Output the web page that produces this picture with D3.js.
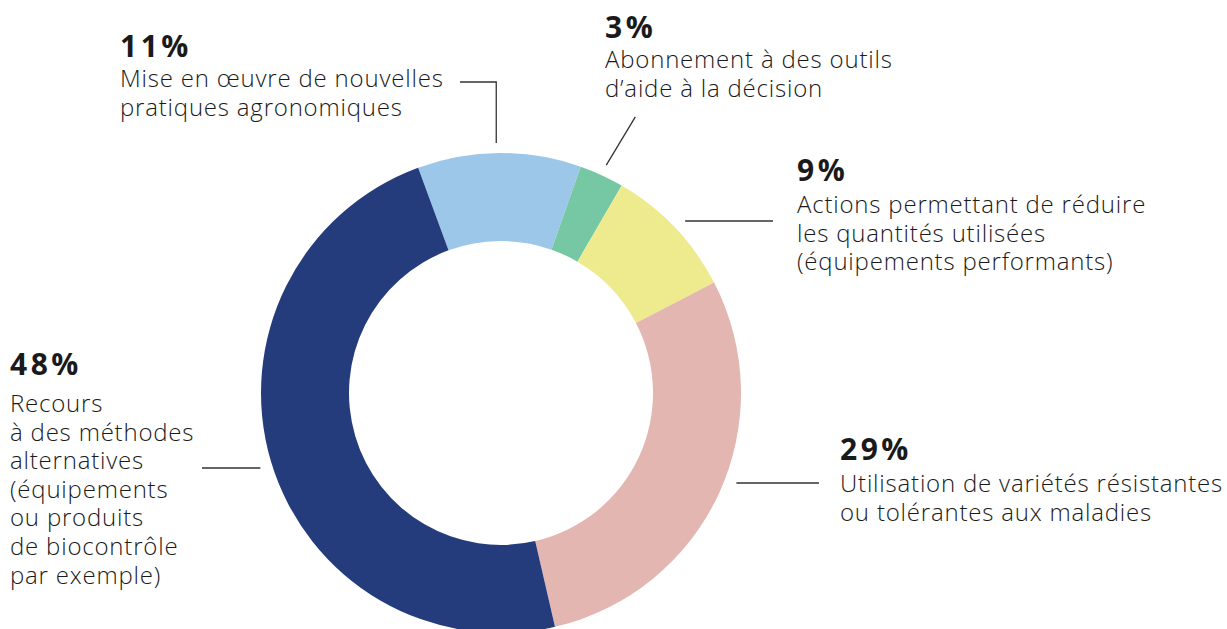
<!DOCTYPE html>
<html>
<head>
<meta charset="utf-8">
<script src="https://cdn.jsdelivr.net/npm/d3@7"></script>
<style>
  body { margin: 0; background: #fff; }
  svg text { font-family: "Open Sans", Lato, sans-serif; fill: #1a1a1a; }
</style>
</head>
<body>
<div id="chart"></div>
<script>
// Data
var categories = ["nouvelles pratiques", "outils d'aide", "réduction quantités", "variétés résistantes", "méthodes alternatives"];
var values = [11, 3, 9, 29, 48];
var percentLabels = ["11%", "3%", "9%", "29%", "48%"];
var labelLines = [
    ["Mise en œuvre de nouvelles", "pratiques agronomiques"],
    ["Abonnement à des outils", "d’aide à la décision"],
    ["Actions permettant de réduire", "les quantités utilisées", "(équipements performants)"],
    ["Utilisation de variétés résistantes", "ou tolérantes aux maladies"],
    ["Recours", "à des méthodes", "alternatives", "(équipements", "ou produits", "de biocontrôle", "par exemple)"]
];
var colors = ["#9dc7e8", "#76c8a5", "#eeeb8f", "#e3b6b1", "#243b7c"];

//Layout
var width = 1227, height = 629;
var cx = 501, cy = 393;
var outerR = 240, innerR = 152;
var startDeg = -20.2;

// text blocks: x, baseline of the percent, gap to first line
var labelPos = [
    { x: 120, y: 57, gap: 30 },
    { x: 605, y: 38, gap: 30 },
    { x: 797, y: 181, gap: 32 },
    { x: 840, y: 460, gap: 32 },
    { x: 10, y: 375, gap: 37 }
];
var lineH = 28.6;

var svg = d3.select("#chart").append("svg")
    .attr("width", width)
    .attr("height", height);

var g = svg.append("g")
    .attr("transform", "translate(" + cx + "," + cy + ")");

var pie = d3.pie()
    .sort(null)
    .value(function (d) { return d; })
    .startAngle(startDeg * Math.PI / 180)
    .endAngle(startDeg * Math.PI / 180 + 2 * Math.PI);

var arc = d3.arc().innerRadius(innerR).outerRadius(outerR);
var arcs = pie(values);

g.selectAll("path.slice")
    .data(arcs)
    .enter()
    .append("path")
    .attr("class", "slice")
    .attr("d", arc)
    .attr("fill", function (d, i) { return colors[i]; });

// Leader lines
var lineColor = "#333";
function midAngle(d) { return (d.startAngle + d.endAngle) / 2; }
function polar(r, a) { return [cx + r * Math.sin(a), cy - r * Math.cos(a)]; }
function edgeX(y, r, side) { var dy = y - cy; return cx + side * Math.sqrt(r * r - dy * dy); }

var leaders = [];
// 11% : up then left
var p0 = polar(250, midAngle(arcs[0]));
leaders.push([[p0[0] - 3, p0[1]], [p0[0] - 3, 82], [460, 82]]);
// 3% : radial
leaders.push([polar(251, midAngle(arcs[1])), polar(307, midAngle(arcs[1]) + 0.02)]);
// 9%, 29%, 48% : horizontal
leaders.push([[edgeX(221, 252, 1), 221], [773, 221]]);
leaders.push([[edgeX(483, 252, 1), 483], [819, 483]]);
leaders.push([[edgeX(468, 252, -1), 468], [202, 468]]);

svg.selectAll("path.leader")
    .data(leaders)
    .enter()
    .append("path")
    .attr("class", "leader")
    .attr("d", d3.line())
    .attr("fill", "none")
    .attr("stroke", lineColor)
    .attr("stroke-width", 1.3);

// Labels
var labels = svg.selectAll("g.label")
    .data(labelPos)
    .enter()
    .append("g")
    .attr("class", "label");

labels.append("text")
    .attr("x", function (d) { return d.x; })
    .attr("y", function (d) { return d.y; })
    .style("font-size", "30px")
    .style("font-weight", 700)
    .style("letter-spacing", "3.5px")
    .text(function (d, i) { return percentLabels[i]; });

labels.each(function (d, i) {
    var t = d3.select(this).append("text")
        .style("font-size", "24px")
        .style("font-weight", 300)
        .style("letter-spacing", "0.8px");
    t.selectAll("tspan")
        .data(labelLines[i])
        .enter()
        .append("tspan")
        .attr("x", d.x)
        .attr("y", function (s, j) { return d.y + d.gap + j * lineH; })
        .text(function (s) { return s; });
});
</script>
</body>
</html>
